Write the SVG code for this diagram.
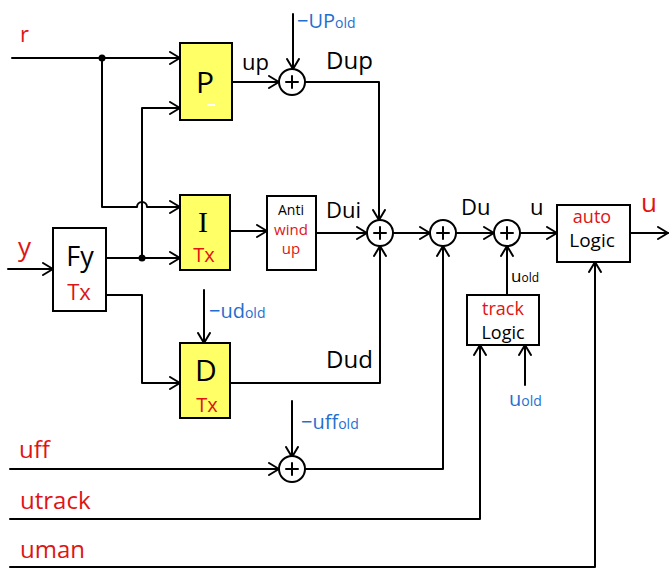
<svg xmlns="http://www.w3.org/2000/svg" width="670" height="570" viewBox="0 0 670 570">
<style>
  .w{fill:none;stroke:#000;stroke-width:2;stroke-linejoin:round;stroke-linecap:round}
  .a{marker-end:url(#arr)}
  .box{fill:#fff;stroke:#000;stroke-width:2}
  .yel{fill:#ffff66;stroke:#000;stroke-width:2}
  .sum{fill:#fff;stroke:#000;stroke-width:2}
  .plus{stroke:#000;stroke-width:2;stroke-linecap:round}
  text{font-family:"Open Sans","Liberation Sans",sans-serif}
  .k{fill:#000}
  .r{fill:#e01414}
  .b{fill:#1f6fd0}
  .mid{text-anchor:middle}
</style>
<defs>
  <marker id="arr" viewBox="0 0 12 14" refX="11" refY="7" markerWidth="12" markerHeight="14" orient="auto" markerUnits="userSpaceOnUse">
    <path d="M1,1 L11,7 L1,13" fill="none" stroke="#000" stroke-width="2" stroke-linecap="round" stroke-linejoin="round"/>
  </marker>
</defs>

<g id="connectors">
  <path class="w a" d="M12,58 H180"/>
  <path class="w a" d="M102,58 V207 H137 A5,5 0 0 1 147,207 H180"/>
  <path class="w a" d="M8,269 H53"/>
  <path class="w a" d="M106,258 H180"/>
  <path class="w a" d="M142,258 V108 H180"/>
  <path class="w a" d="M106,295 H142 V383 H180"/>
  <path class="w a" d="M232,82 H279"/>
  <path class="w a" d="M293,14 V69"/>
  <path class="w a" d="M305,82 H379 V220"/>
  <path class="w a" d="M230,231 H267"/>
  <path class="w a" d="M316,233 H367"/>
  <path class="w a" d="M230,383 H380 V246"/>
  <path class="w a" d="M204,290 V343"/>
  <path class="w a" d="M393,233 H430"/>
  <path class="w a" d="M456,233 H494"/>
  <path class="w a" d="M520,233 H557"/>
  <path class="w a" d="M630,233 H668"/>
  <path class="w a" d="M507,295 V246"/>
  <path class="w a" d="M10,469 H279"/>
  <path class="w a" d="M292,401 V457"/>
  <path class="w a" d="M305,469 H443 V246"/>
  <path class="w a" d="M10,519 H480 V345"/>
  <path class="w a" d="M525,385 V345"/>
  <path class="w a" d="M10,567 H595 V262"/>
  <circle cx="102" cy="58" r="3.5" fill="#000"/>
  <circle cx="142" cy="258" r="3.5" fill="#000"/>
</g>

<g id="P">
  <rect class="yel" x="180" y="43" width="52" height="77"/>
  <text class="k mid" x="205" y="93" font-size="30">P</text>
  <line x1="207" y1="105" x2="215" y2="105" stroke="#fff" stroke-width="2"/>
</g>
<g id="I">
  <rect class="yel" x="180" y="195" width="50" height="75"/>
  <text class="k mid" x="203" y="232" font-size="30" style="font-family:'Liberation Serif',serif">I</text>
  <text class="r mid" x="204" y="262" font-size="20">Tx</text>
</g>
<g id="D">
  <rect class="yel" x="180" y="343" width="50" height="75"/>
  <text class="k mid" x="206" y="381" font-size="30">D</text>
  <text class="r mid" x="207" y="412" font-size="20">Tx</text>
</g>
<g id="Fy">
  <rect class="box" x="53" y="228" width="53" height="83"/>
  <text class="k mid" x="80" y="266" font-size="27">Fy</text>
  <text class="r mid" x="79" y="300" font-size="22">Tx</text>
</g>
<g id="antiwindup">
  <rect class="box" x="267" y="196" width="49" height="74"/>
  <text class="k mid" x="291" y="215" font-size="14">Anti</text>
  <text class="r mid" x="291" y="235" font-size="15">wind</text>
  <text class="r mid" x="291" y="254" font-size="15">up</text>
</g>
<g id="autologic">
  <rect class="box" x="557" y="205" width="73" height="57"/>
  <text class="r mid" x="592" y="223" font-size="18">auto</text>
  <text class="k mid" x="592" y="247" font-size="19">Logic</text>
</g>
<g id="tracklogic">
  <rect class="box" x="467" y="295" width="72" height="50"/>
  <text class="r mid" x="503" y="315" font-size="18">track</text>
  <text class="k mid" x="503" y="339" font-size="18">Logic</text>
</g>
<g id="sum1"><circle class="sum" cx="292" cy="82" r="13"/><path class="plus" d="M286,82 H298 M292,76 V88"/></g>
<g id="sum2"><circle class="sum" cx="380" cy="233" r="13"/><path class="plus" d="M374,233 H386 M380,227 V239"/></g>
<g id="sum3"><circle class="sum" cx="443" cy="233" r="13"/><path class="plus" d="M437,233 H449 M443,227 V239"/></g>
<g id="sum4"><circle class="sum" cx="507" cy="233" r="13"/><path class="plus" d="M501,233 H513 M507,227 V239"/></g>
<g id="sum5"><circle class="sum" cx="292" cy="469" r="13"/><path class="plus" d="M286,469 H298 M292,463 V475"/></g>

<g id="labels">
  <text class="r" x="20" y="42" font-size="22">r</text>
  <text class="r" x="18" y="256" font-size="26">y</text>
  <text class="k" x="242" y="70" font-size="22">up</text>
  <text class="b" x="297" y="28" font-size="20">−UP<tspan font-size="14">old</tspan></text>
  <text class="k" x="326" y="69" font-size="24">Dup</text>
  <text class="k" x="326" y="218" font-size="22">Dui</text>
  <text class="b" x="209" y="318" font-size="20">−ud<tspan font-size="14">old</tspan></text>
  <text class="k" x="326" y="368" font-size="24">Dud</text>
  <text class="b" x="301" y="429" font-size="20">−uff<tspan font-size="14">old</tspan></text>
  <text class="k" x="461" y="215" font-size="22">Du</text>
  <text class="k" x="530" y="215" font-size="22">u</text>
  <text class="r" x="641" y="212" font-size="26">u</text>
  <text class="k" x="511" y="282" font-size="17">u<tspan font-size="12">old</tspan></text>
  <text class="b" x="509" y="406" font-size="20">u<tspan font-size="14">old</tspan></text>
  <text class="r" x="19" y="458" font-size="24">uff</text>
  <text class="r" x="20" y="509" font-size="24">utrack</text>
  <text class="r" x="20" y="558" font-size="24">uman</text>
</g>
</svg>
